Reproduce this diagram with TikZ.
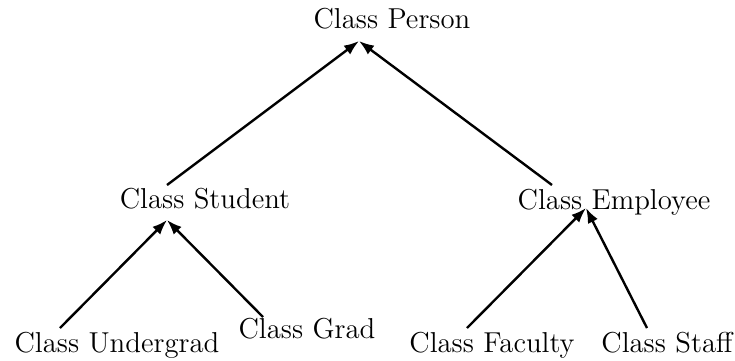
\documentclass[tikz,border=0pt]{standalone}
\usepackage{tikz}
\usetikzlibrary{arrows.meta}

\begin{document}
\begin{tikzpicture}[x=0.5pt, y=-0.5pt, line width=1.2pt, font=\Large,
    cls/.style={inner sep=0pt, anchor=base},
    isa/.style={-{Latex[length=7.5pt, width=5.5pt]}}]

  \useasboundingbox (0,0) rectangle (735,360);

  % class names, placed on their baselines
  \node[cls] (person)    at (392,28)  {Class Person};
  \node[cls] (student)   at (205,208) {Class Student};
  \node[cls] (employee)  at (614,209) {Class Employee};
  \node[cls] (undergrad) at (117,352) {Class Undergrad};
  \node[cls] (grad)      at (307,338) {Class Grad};
  \node[cls] (faculty)   at (492,352) {Class Faculty};
  \node[cls] (staff)     at (667,352) {Class Staff};

  % where the arrows meet, and where they leave the subclasses
  \coordinate (person-in)   at (359,41);
  \coordinate (student-in)  at (167,220);
  \coordinate (employee-in) at (586,208);
  \coordinate (student-out)   at (167,185);
  \coordinate (employee-out)  at (552,185);
  \coordinate (undergrad-out) at (60,328);
  \coordinate (grad-out)      at (263,317);
  \coordinate (faculty-out)   at (467,328);
  \coordinate (staff-out)     at (647,328);

  \foreach \from/\to in {student/person, employee/person,
                         undergrad/student, grad/student,
                         faculty/employee, staff/employee}
    \draw[isa] (\from-out) -- (\to-in);

\end{tikzpicture}
\end{document}
